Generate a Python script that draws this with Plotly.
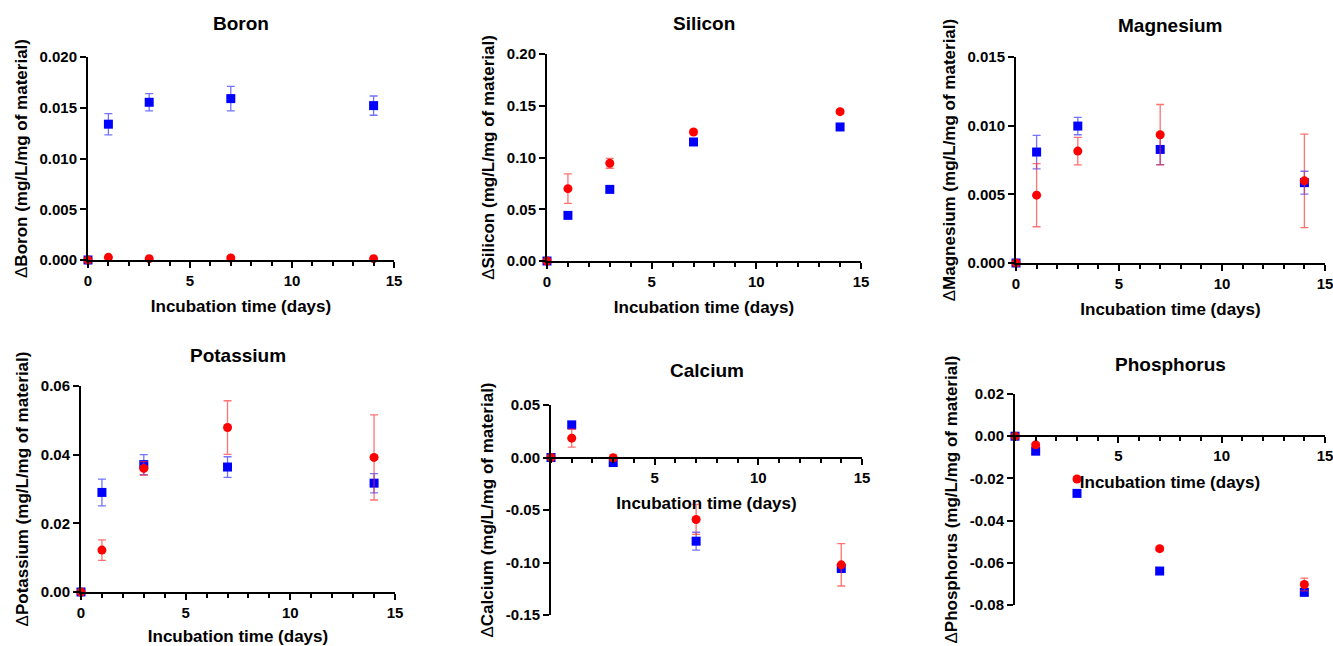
import plotly.graph_objects as go

# ---------------- data ----------------
days = [0, 1, 3, 7, 14]

boron_blue = [0, 0.01338, 0.01554, 0.0159, 0.01521]
boron_blue_err = [0, 0.00105, 0.00085, 0.0012, 0.00095]
boron_red = [0, 0.00026, 0.00013, 0.0002, 0.00013]
boron_red_err = [0, 0.00005, 0.00005, 0.00005, 0.00005]

silicon_blue = [0, 0.0441, 0.0692, 0.115, 0.1295]
silicon_blue_err = [0, 0.002, 0.002, 0.002, 0.002]
silicon_red = [0, 0.0699, 0.0944, 0.1246, 0.1443]
silicon_red_err = [0, 0.0143, 0.0048, 0.002, 0.002]

magnesium_blue = [0, 0.00808, 0.00997, 0.00827, 0.00585]
magnesium_blue_err = [0, 0.00122, 0.00063, 0.0011, 0.00083]
magnesium_red = [0, 0.00494, 0.00815, 0.00934, 0.00598]
magnesium_red_err = [0, 0.0023, 0.001, 0.0022, 0.0034]

potassium_blue = [0, 0.029, 0.0371, 0.0364, 0.0317]
potassium_blue_err = [0, 0.0039, 0.0029, 0.003, 0.0028]
potassium_red = [0, 0.0122, 0.036, 0.0479, 0.0392]
potassium_red_err = [0, 0.003, 0.002, 0.0078, 0.0124]

calcium_blue = [0, 0.0311, -0.0048, -0.0797, -0.1057]
calcium_blue_err = [0, 0.003, 0.003, 0.0085, 0.003]
calcium_red = [0, 0.0184, -0.0003, -0.059, -0.1022]
calcium_red_err = [0, 0.0085, 0.003, 0.0143, 0.0202]

phosphorus_blue = [0, -0.0071, -0.0271, -0.0639, -0.074]
phosphorus_blue_err = [0, 0.001, 0.001, 0.0015, 0.0015]
phosphorus_red = [0, -0.0041, -0.0203, -0.0533, -0.0703]
phosphorus_red_err = [0, 0.001, 0.001, 0.001, 0.003]

element_names = ["Boron", "Silicon", "Magnesium", "Potassium", "Calcium", "Phosphorus"]

x_tickvals = [0, 5, 10, 15]
x_ticktext = ["0", "5", "10", "15"]
x_ticktext_cross = ["", "5", "10", "15"]

boron_yticks = [0, 0.005, 0.010, 0.015, 0.020]
boron_yticktext = ["0.000", "0.005", "0.010", "0.015", "0.020"]
silicon_yticks = [0, 0.05, 0.10, 0.15, 0.20]
silicon_yticktext = ["0.00", "0.05", "0.10", "0.15", "0.20"]
magnesium_yticks = [0, 0.005, 0.010, 0.015]
magnesium_yticktext = ["0.000", "0.005", "0.010", "0.015"]
potassium_yticks = [0, 0.02, 0.04, 0.06]
potassium_yticktext = ["0.00", "0.02", "0.04", "0.06"]
calcium_yticks = [-0.15, -0.10, -0.05, 0, 0.05]
calcium_yticktext = ["-0.15", "-0.10", "-0.05", "0.00", "0.05"]
phosphorus_yticks = [-0.08, -0.06, -0.04, -0.02, 0, 0.02]
phosphorus_yticktext = ["-0.08", "-0.06", "-0.04", "-0.02", "0.00", "0.02"]

x_title = "Incubation time (days)"
y_unit = "(mg/L/mg of material)"

# ---------------- layout helpers ----------------
W, H = 1333, 646
FONT = "Arial, 'Liberation Sans', sans-serif"
BLUE = "#0000FF"
RED = "#FF0000"

panels = [
    dict(blue=boron_blue, be=boron_blue_err, red=boron_red, re=boron_red_err,
         yr=[0, 0.020], yt=boron_yticks, ytt=boron_yticktext, px=(88, 394), py=(57, 260),
         cross=False, tshift=34),
    dict(blue=silicon_blue, be=silicon_blue_err, red=silicon_red, re=silicon_red_err,
         yr=[0, 0.20], yt=silicon_yticks, ytt=silicon_yticktext, px=(547, 861), py=(54, 261),
         cross=False, tshift=30),
    dict(blue=magnesium_blue, be=magnesium_blue_err, red=magnesium_red, re=magnesium_red_err,
         yr=[0, 0.015], yt=magnesium_yticks, ytt=magnesium_yticktext, px=(1016, 1325), py=(57, 263),
         cross=False, tshift=32),
    dict(blue=potassium_blue, be=potassium_blue_err, red=potassium_red, re=potassium_red_err,
         yr=[0, 0.06], yt=potassium_yticks, ytt=potassium_yticktext, px=(81, 395), py=(386, 592),
         cross=False, tshift=31),
    dict(blue=calcium_blue, be=calcium_blue_err, red=calcium_red, re=calcium_red_err,
         yr=[-0.15, 0.05], yt=calcium_yticks, ytt=calcium_yticktext, px=(551, 862), py=(405, 615),
         cross=True, tshift=35),
    dict(blue=phosphorus_blue, be=phosphorus_blue_err, red=phosphorus_red, re=phosphorus_red_err,
         yr=[-0.08, 0.02], yt=phosphorus_yticks, ytt=phosphorus_yticktext, px=(1015, 1325), py=(394, 605),
         cross=True, tshift=30),
]

fig = go.Figure()
annotations = []
layout_axes = {}

for i, (name, p) in enumerate(zip(element_names, panels), start=1):
    xa = "x" if i == 1 else f"x{i}"
    ya = "y" if i == 1 else f"y{i}"
    fig.add_trace(go.Scatter(
        x=days, y=p["blue"], xaxis=xa, yaxis=ya, mode="markers",
        marker=dict(symbol="square", size=9, color=BLUE),
        error_y=dict(type="data", array=p["be"], color="rgba(40,40,255,0.65)", thickness=1.3, width=4),
        cliponaxis=False, showlegend=False))
    fig.add_trace(go.Scatter(
        x=days, y=p["red"], xaxis=xa, yaxis=ya, mode="markers",
        marker=dict(symbol="circle", size=9, color=RED),
        error_y=dict(type="data", array=p["re"], color="rgba(255,40,40,0.65)", thickness=1.3, width=4),
        cliponaxis=False, showlegend=False))

    xd = [p["px"][0] / W, p["px"][1] / W]
    yd = [1 - p["py"][1] / H, 1 - p["py"][0] / H]
    ymin, ymax = p["yr"]
    common = dict(showline=True, linewidth=2, linecolor="black", ticks="outside",
                  ticklen=6, tickwidth=2, tickcolor="black", showgrid=False, zeroline=False,
                  automargin=False, ticklabeloverflow="allow",
                  tickfont=dict(family=FONT, size=15, color="black", weight="bold"))
    xaxis = dict(common, domain=xd, range=[0, 15], tickmode="array", tickvals=x_tickvals,
                 ticktext=x_ticktext_cross if p["cross"] else x_ticktext,
                 minor=dict(tickmode="array", tickvals=list(range(16)), ticks="outside",
                            ticklen=4, tickwidth=2, tickcolor="black"),
                 title=dict(text=x_title, font=dict(family=FONT, size=17, color="black", weight="bold"),
                            standoff=12))
    if p["cross"]:
        frac = (0 - ymin) / (ymax - ymin)
        xaxis["anchor"] = "free"
        xaxis["position"] = yd[0] + frac * (yd[1] - yd[0])
    else:
        xaxis["anchor"] = ya
    yaxis = dict(common, domain=yd, range=p["yr"], tickmode="array", tickvals=p["yt"],
                 ticktext=p["ytt"], anchor=xa,
                 title=dict(text=f"Δ<b>{name} {y_unit}</b>",
                            font=dict(family=FONT, size=17, color="black"), standoff=8))
    layout_axes["xaxis" if i == 1 else f"xaxis{i}"] = xaxis
    layout_axes["yaxis" if i == 1 else f"yaxis{i}"] = yaxis

    annotations.append(dict(text=f"<b>{name}</b>", xref=f"{xa} domain", yref=f"{ya} domain",
                            x=0.5, y=1, yshift=p["tshift"], xanchor="center", yanchor="middle",
                            showarrow=False, font=dict(family=FONT, size=19, color="black")))

fig.update_layout(**layout_axes)
fig.update_layout(width=W, height=H, margin=dict(l=0, r=0, t=0, b=0, autoexpand=False),
                  paper_bgcolor="white", plot_bgcolor="white", annotations=annotations,
                  font=dict(family=FONT, color="black"))

fig.write_html("out.html", config={"displayModeBar": False},
               post_script="document.body.style.margin='0';document.body.style.overflow='hidden';")
